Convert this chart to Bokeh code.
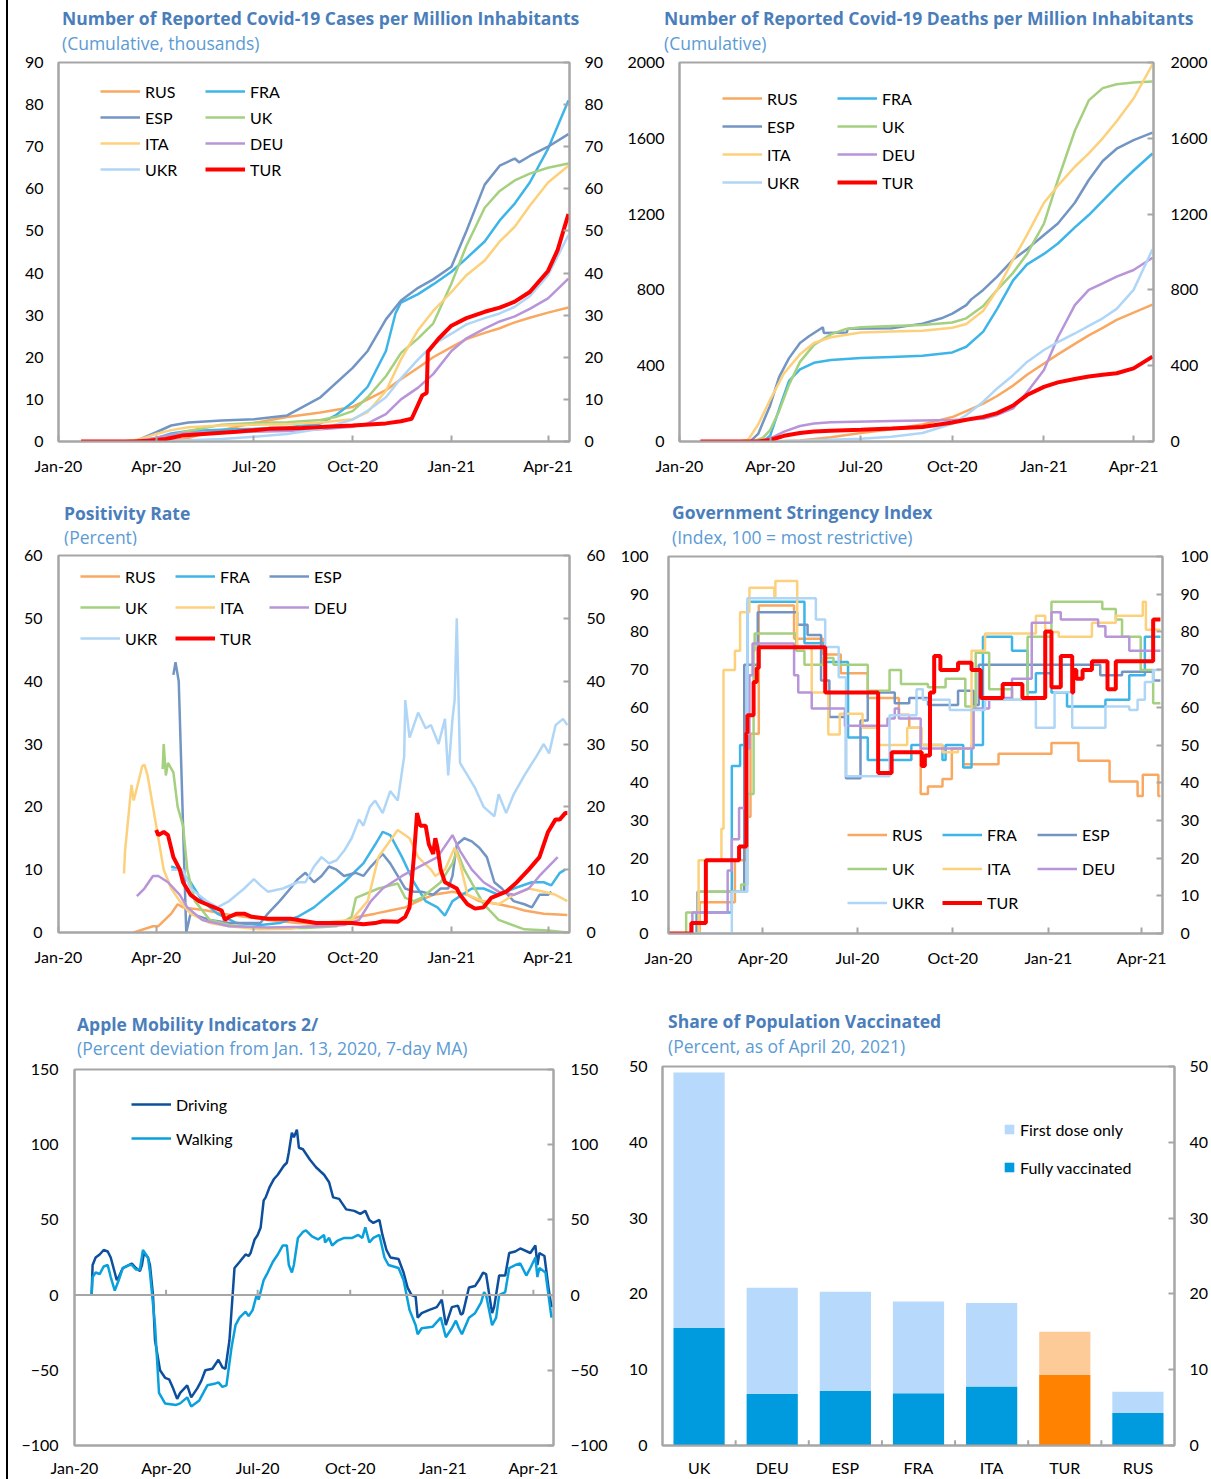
import pandas as pd
from bokeh.plotting import figure
from bokeh.models import (Range1d, LinearAxis, FixedTicker, DatetimeTickFormatter, Legend,
                          LegendItem, Span, FactorRange, Div, Spacer)
from bokeh.layouts import row, column
from bokeh.embed import file_html
from bokeh.resources import INLINE

# ---------------------------------------------------------------- data
QUARTERS = ["2020-01-01", "2020-04-01", "2020-07-01", "2020-10-01", "2021-01-01", "2021-04-01"]
X_START, X_END = "2020-01-01", "2021-04-21"

COUNTRIES = ["RUS", "FRA", "ESP", "UK", "ITA", "DEU", "UKR", "TUR"]

# Panel 1: cumulative cases per million (thousands)
CASES_RUS = [("2020-01-22", 0), ("2020-03-15", 0), ("2020-04-01", 0.1), ("2020-04-15", 0.3), ("2020-05-01", 0.8), ("2020-05-15", 1.8), ("2020-06-01", 2.7), ("2020-07-01", 4.4), ("2020-08-01", 5.8), ("2020-09-01", 6.9), ("2020-10-01", 8.2), ("2020-10-15", 10.0), ("2020-11-01", 12.2), ("2020-11-15", 14.8), ("2020-12-01", 17.5), ("2020-12-15", 20.0), ("2021-01-01", 22.4), ("2021-01-15", 24.3), ("2021-02-01", 25.8), ("2021-02-15", 26.9), ("2021-03-01", 28.3), ("2021-03-15", 29.4), ("2021-04-01", 30.6), ("2021-04-20", 31.8)]
CASES_FRA = [("2020-01-22", 0), ("2020-03-01", 0), ("2020-03-15", 0.1), ("2020-04-01", 0.8), ("2020-04-15", 1.9), ("2020-05-01", 2.5), ("2020-06-01", 2.8), ("2020-07-01", 3.0), ("2020-08-01", 3.3), ("2020-09-01", 4.3), ("2020-09-15", 6.2), ("2020-10-01", 9.3), ("2020-10-15", 13.0), ("2020-11-01", 21.5), ("2020-11-10", 30.5), ("2020-11-15", 33.0), ("2020-12-01", 35.0), ("2020-12-15", 37.3), ("2021-01-01", 40.3), ("2021-01-15", 43.5), ("2021-02-01", 47.5), ("2021-02-15", 52.5), ("2021-03-01", 56.5), ("2021-03-15", 61.5), ("2021-04-01", 69.5), ("2021-04-20", 81.0)]
CASES_ESP = [("2020-01-22", 0), ("2020-03-01", 0), ("2020-03-15", 0.3), ("2020-04-01", 2.2), ("2020-04-15", 3.8), ("2020-05-01", 4.5), ("2020-06-01", 5.0), ("2020-07-01", 5.3), ("2020-08-01", 6.2), ("2020-09-01", 10.5), ("2020-10-01", 17.5), ("2020-10-15", 21.5), ("2020-11-01", 29.0), ("2020-11-15", 33.5), ("2020-12-01", 36.5), ("2020-12-15", 38.5), ("2021-01-01", 41.5), ("2021-01-15", 50.0), ("2021-02-01", 61.0), ("2021-02-15", 65.5), ("2021-03-01", 67.2), ("2021-03-05", 66.3), ("2021-03-15", 67.8), ("2021-04-01", 70.0), ("2021-04-20", 73.0)]
CASES_UK = [("2020-01-22", 0), ("2020-03-15", 0), ("2020-04-01", 0.5), ("2020-04-15", 1.5), ("2020-05-01", 2.5), ("2020-06-01", 4.0), ("2020-07-01", 4.4), ("2020-08-01", 4.6), ("2020-09-01", 5.1), ("2020-09-15", 5.8), ("2020-10-01", 7.2), ("2020-10-15", 10.5), ("2020-11-01", 15.5), ("2020-11-15", 21.0), ("2020-12-01", 24.5), ("2020-12-15", 28.0), ("2021-01-01", 37.5), ("2021-01-15", 46.5), ("2021-02-01", 55.5), ("2021-02-15", 59.5), ("2021-03-01", 62.0), ("2021-03-15", 63.6), ("2021-04-01", 65.0), ("2021-04-20", 66.0)]
CASES_ITA = [("2020-01-22", 0), ("2020-03-01", 0), ("2020-03-15", 0.4), ("2020-04-01", 1.8), ("2020-04-15", 2.7), ("2020-05-01", 3.4), ("2020-06-01", 3.8), ("2020-07-01", 4.0), ("2020-08-01", 4.1), ("2020-09-01", 4.5), ("2020-10-01", 5.3), ("2020-10-15", 7.0), ("2020-11-01", 12.0), ("2020-11-15", 19.5), ("2020-12-01", 26.5), ("2020-12-15", 31.0), ("2021-01-01", 35.5), ("2021-01-15", 39.5), ("2021-02-01", 43.0), ("2021-02-15", 47.5), ("2021-03-01", 51.0), ("2021-03-15", 56.0), ("2021-04-01", 61.5), ("2021-04-20", 65.5)]
CASES_DEU = [("2020-01-22", 0), ("2020-03-01", 0), ("2020-03-15", 0.1), ("2020-04-01", 0.9), ("2020-04-15", 1.6), ("2020-05-01", 2.0), ("2020-06-01", 2.2), ("2020-07-01", 2.3), ("2020-08-01", 2.5), ("2020-09-01", 2.9), ("2020-10-01", 3.5), ("2020-10-15", 4.3), ("2020-11-01", 6.5), ("2020-11-15", 10.0), ("2020-12-01", 12.8), ("2020-12-15", 16.0), ("2021-01-01", 21.5), ("2021-01-15", 24.5), ("2021-02-01", 26.8), ("2021-02-15", 28.5), ("2021-03-01", 29.7), ("2021-03-15", 31.5), ("2021-04-01", 34.0), ("2021-04-20", 38.7)]
CASES_UKR = [("2020-01-22", 0), ("2020-04-01", 0), ("2020-05-01", 0.3), ("2020-06-01", 0.6), ("2020-07-01", 1.1), ("2020-08-01", 1.8), ("2020-09-01", 3.0), ("2020-10-01", 5.2), ("2020-10-15", 7.3), ("2020-11-01", 10.5), ("2020-11-15", 15.0), ("2020-12-01", 19.5), ("2020-12-15", 23.0), ("2021-01-01", 25.6), ("2021-01-15", 27.8), ("2021-02-01", 29.3), ("2021-02-15", 30.4), ("2021-03-01", 32.0), ("2021-03-15", 34.5), ("2021-04-01", 39.5), ("2021-04-20", 49.0)]
CASES_TUR = [("2020-01-22", 0), ("2020-03-10", 0), ("2020-03-25", 0.2), ("2020-04-10", 0.6), ("2020-04-25", 1.4), ("2020-05-15", 1.8), ("2020-06-15", 2.3), ("2020-07-15", 3.0), ("2020-08-15", 3.2), ("2020-09-15", 3.6), ("2020-10-01", 3.8), ("2020-11-01", 4.3), ("2020-11-15", 4.8), ("2020-11-25", 5.4), ("2020-12-05", 11.0), ("2020-12-09", 11.5), ("2020-12-10", 21.3), ("2020-12-20", 24.4), ("2021-01-01", 27.5), ("2021-01-15", 29.3), ("2021-02-01", 30.8), ("2021-02-15", 31.8), ("2021-03-01", 33.2), ("2021-03-15", 35.5), ("2021-04-01", 40.5), ("2021-04-10", 45.5), ("2021-04-20", 54.0)]

# Panel 2: cumulative deaths per million
DEATHS_RUS = [("2020-01-22", 0), ("2020-04-01", 0), ("2020-05-01", 5), ("2020-06-01", 23), ("2020-07-01", 45), ("2020-08-01", 65), ("2020-09-01", 90), ("2020-10-01", 129), ("2020-10-15", 160), ("2020-11-01", 200), ("2020-11-15", 240), ("2020-12-01", 295), ("2020-12-15", 352), ("2021-01-01", 412), ("2021-01-15", 460), ("2021-02-01", 515), ("2021-02-15", 560), ("2021-03-01", 600), ("2021-03-15", 642), ("2021-04-01", 680), ("2021-04-20", 722)]
DEATHS_FRA = [("2020-01-22", 0), ("2020-03-25", 0), ("2020-04-01", 30), ("2020-04-10", 170), ("2020-04-20", 320), ("2020-05-01", 380), ("2020-05-15", 415), ("2020-06-01", 430), ("2020-07-01", 440), ("2020-08-01", 446), ("2020-09-01", 452), ("2020-10-01", 470), ("2020-10-15", 500), ("2020-11-01", 580), ("2020-11-15", 700), ("2020-12-01", 850), ("2020-12-15", 935), ("2021-01-01", 990), ("2021-01-15", 1045), ("2021-02-01", 1130), ("2021-02-15", 1195), ("2021-03-01", 1270), ("2021-03-15", 1345), ("2021-04-01", 1430), ("2021-04-20", 1520)]
DEATHS_ESP = [("2020-01-22", 0), ("2020-03-12", 0), ("2020-03-20", 40), ("2020-04-01", 190), ("2020-04-10", 340), ("2020-04-20", 440), ("2020-05-01", 520), ("2020-05-10", 555), ("2020-05-24", 603), ("2020-05-25", 572), ("2020-06-17", 575), ("2020-06-18", 595), ("2020-08-01", 598), ("2020-09-01", 622), ("2020-09-20", 650), ("2020-10-01", 675), ("2020-10-15", 720), ("2020-10-20", 750), ("2020-11-01", 800), ("2020-11-15", 870), ("2020-12-01", 960), ("2020-12-15", 1015), ("2021-01-01", 1090), ("2021-01-15", 1150), ("2021-02-01", 1260), ("2021-02-15", 1380), ("2021-03-01", 1480), ("2021-03-15", 1545), ("2021-04-01", 1590), ("2021-04-20", 1630)]
DEATHS_UK = [("2020-01-22", 0), ("2020-03-15", 0), ("2020-03-25", 20), ("2020-04-01", 60), ("2020-04-10", 160), ("2020-04-20", 300), ("2020-05-01", 420), ("2020-05-15", 510), ("2020-06-01", 565), ("2020-06-15", 592), ("2020-07-01", 603), ("2020-08-01", 610), ("2020-09-01", 615), ("2020-10-01", 628), ("2020-10-15", 650), ("2020-11-01", 715), ("2020-11-15", 800), ("2020-12-01", 890), ("2020-12-15", 990), ("2021-01-01", 1150), ("2021-01-15", 1380), ("2021-02-01", 1640), ("2021-02-15", 1800), ("2021-03-01", 1865), ("2021-03-15", 1885), ("2021-04-01", 1895), ("2021-04-20", 1900)]
DEATHS_ITA = [("2020-01-22", 0), ("2020-03-01", 0), ("2020-03-10", 10), ("2020-03-20", 90), ("2020-04-01", 220), ("2020-04-15", 360), ("2020-05-01", 460), ("2020-05-15", 520), ("2020-06-01", 550), ("2020-07-01", 575), ("2020-08-01", 580), ("2020-09-01", 585), ("2020-10-01", 600), ("2020-10-15", 620), ("2020-11-01", 690), ("2020-11-15", 800), ("2020-12-01", 960), ("2020-12-15", 1090), ("2021-01-01", 1260), ("2021-01-15", 1350), ("2021-02-01", 1450), ("2021-02-15", 1520), ("2021-03-01", 1600), ("2021-03-15", 1690), ("2021-04-01", 1810), ("2021-04-20", 1990)]
DEATHS_DEU = [("2020-01-22", 0), ("2020-03-20", 0), ("2020-04-01", 15), ("2020-04-15", 52), ("2020-05-01", 82), ("2020-05-15", 95), ("2020-06-01", 102), ("2020-08-01", 108), ("2020-10-01", 113), ("2020-11-01", 120), ("2020-11-15", 140), ("2020-12-01", 175), ("2020-12-15", 260), ("2021-01-01", 377), ("2021-01-15", 550), ("2021-02-01", 720), ("2021-02-15", 800), ("2021-03-01", 835), ("2021-03-15", 870), ("2021-04-01", 905), ("2021-04-20", 970)]
DEATHS_UKR = [("2020-01-22", 0), ("2020-04-01", 0), ("2020-05-01", 4), ("2020-06-01", 9), ("2020-07-01", 14), ("2020-08-01", 25), ("2020-09-01", 45), ("2020-10-01", 94), ("2020-10-15", 140), ("2020-11-01", 210), ("2020-11-15", 280), ("2020-12-01", 350), ("2020-12-15", 420), ("2021-01-01", 483), ("2021-01-15", 525), ("2021-02-01", 570), ("2021-02-15", 610), ("2021-03-01", 650), ("2021-03-15", 700), ("2021-04-01", 800), ("2021-04-20", 1014)]
DEATHS_TUR = [("2020-01-22", 0), ("2020-03-20", 0), ("2020-04-01", 8), ("2020-04-15", 30), ("2020-05-01", 45), ("2020-05-15", 53), ("2020-06-01", 57), ("2020-07-01", 62), ("2020-08-01", 68), ("2020-09-01", 76), ("2020-10-01", 100), ("2020-10-15", 115), ("2020-11-01", 130), ("2020-11-15", 150), ("2020-12-01", 190), ("2020-12-15", 245), ("2021-01-01", 288), ("2021-01-15", 312), ("2021-02-01", 330), ("2021-02-15", 343), ("2021-03-01", 352), ("2021-03-15", 360), ("2021-04-01", 386), ("2021-04-20", 448)]

# Panel 3: positivity rate (percent)
POS_RUS = [("2020-03-11", 0), ("2020-03-29", 1.0), ("2020-04-03", 1.0), ("2020-04-15", 3.0), ("2020-04-21", 4.5), ("2020-04-26", 4.0), ("2020-05-18", 3.5), ("2020-06-01", 3.0), ("2020-06-22", 2.5), ("2020-07-14", 2.0), ("2020-08-11", 1.5), ("2020-09-02", 1.5), ("2020-09-23", 1.8), ("2020-10-07", 2.5), ("2020-10-22", 3.0), ("2020-11-05", 3.5), ("2020-11-19", 4.0), ("2020-12-01", 5.0), ("2020-12-15", 6.0), ("2021-01-02", 6.5), ("2021-01-16", 6.0), ("2021-01-27", 5.0), ("2021-02-14", 4.5), ("2021-02-28", 4.0), ("2021-03-10", 3.5), ("2021-03-28", 3.0), ("2021-04-19", 2.8)]
POS_FRA = [("2020-04-15", 10.5), ("2020-04-23", 10.0), ("2020-05-03", 8.0), ("2020-05-14", 5.0), ("2020-05-28", 3.0), ("2020-06-15", 1.5), ("2020-07-07", 1.2), ("2020-07-25", 1.5), ("2020-08-11", 2.5), ("2020-08-26", 4.0), ("2020-09-09", 6.0), ("2020-09-23", 8.0), ("2020-10-11", 11.0), ("2020-10-22", 14.0), ("2020-10-29", 16.0), ("2020-11-05", 15.5), ("2020-11-16", 12.0), ("2020-11-27", 8.0), ("2020-12-08", 5.0), ("2020-12-19", 4.0), ("2020-12-26", 2.7), ("2021-01-02", 5.0), ("2021-01-20", 7.0), ("2021-01-31", 7.0), ("2021-02-14", 6.0), ("2021-02-28", 7.0), ("2021-03-17", 8.0), ("2021-03-28", 8.0), ("2021-04-04", 7.5), ("2021-04-12", 9.5), ("2021-04-17", 10.0)]
POS_ESP = [("2020-04-17", 41.0), ("2020-04-19", 43.0), ("2020-04-22", 40.0), ("2020-04-29", 0.0), ("2020-05-03", 3.0), ("2020-05-21", 2.0), ("2020-06-08", 1.5), ("2020-07-07", 1.5), ("2020-07-14", 3.0), ("2020-07-25", 5.0), ("2020-08-04", 7.0), ("2020-08-11", 8.5), ("2020-08-18", 9.5), ("2020-08-26", 8.0), ("2020-09-02", 9.0), ("2020-09-09", 10.5), ("2020-09-16", 10.0), ("2020-09-23", 9.0), ("2020-10-04", 9.5), ("2020-10-11", 9.0), ("2020-10-18", 10.5), ("2020-10-29", 12.5), ("2020-11-05", 11.0), ("2020-11-12", 9.0), ("2020-11-19", 7.0), ("2020-11-27", 6.5), ("2020-12-04", 6.5), ("2020-12-15", 6.0), ("2020-12-22", 7.0), ("2020-12-29", 7.0), ("2021-01-02", 9.0), ("2021-01-06", 14.0), ("2021-01-13", 15.0), ("2021-01-20", 14.5), ("2021-01-27", 13.5), ("2021-02-03", 12.0), ("2021-02-10", 8.0), ("2021-02-17", 7.0), ("2021-02-28", 5.0), ("2021-03-10", 4.5), ("2021-03-17", 4.0), ("2021-03-24", 6.0), ("2021-04-01", 6.0), ("2021-04-04", 6.5)]
POS_UK = [("2020-04-07", 26.0), ("2020-04-08", 30.0), ("2020-04-10", 25.0), ("2020-04-12", 27.0), ("2020-04-17", 25.5), ("2020-04-21", 20.0), ("2020-04-26", 17.0), ("2020-04-30", 10.0), ("2020-05-07", 5.0), ("2020-05-21", 2.0), ("2020-06-08", 1.2), ("2020-07-07", 0.7), ("2020-08-18", 0.7), ("2020-09-16", 1.0), ("2020-09-30", 2.5), ("2020-10-04", 5.5), ("2020-10-25", 7.0), ("2020-11-12", 7.8), ("2020-11-19", 5.5), ("2020-11-27", 5.0), ("2020-12-04", 5.5), ("2020-12-22", 8.0), ("2021-01-02", 11.0), ("2021-01-06", 13.0), ("2021-01-13", 10.0), ("2021-01-31", 4.5), ("2021-02-14", 2.0), ("2021-03-10", 0.5), ("2021-04-01", 0.3), ("2021-04-19", 0.0)]
POS_ITA = [("2020-03-02", 9.4), ("2020-03-03", 13.0), ("2020-03-07", 20.0), ("2020-03-09", 23.5), ("2020-03-11", 21.0), ("2020-03-14", 23.0), ("2020-03-19", 26.5), ("2020-03-21", 26.7), ("2020-03-24", 25.0), ("2020-03-29", 20.0), ("2020-04-03", 15.0), ("2020-04-08", 10.0), ("2020-04-15", 7.0), ("2020-04-23", 5.0), ("2020-05-03", 3.0), ("2020-05-21", 1.5), ("2020-06-08", 1.0), ("2020-07-07", 0.5), ("2020-08-04", 0.6), ("2020-09-02", 1.5), ("2020-09-30", 2.0), ("2020-10-15", 5.0), ("2020-10-25", 12.0), ("2020-11-12", 16.3), ("2020-11-23", 15.0), ("2020-12-01", 12.0), ("2020-12-13", 10.0), ("2020-12-17", 9.0), ("2020-12-26", 10.0), ("2021-01-04", 13.5), ("2021-01-09", 11.0), ("2021-01-16", 6.0), ("2021-01-31", 5.0), ("2021-02-14", 4.5), ("2021-02-28", 6.0), ("2021-03-14", 7.0), ("2021-03-28", 6.5), ("2021-04-08", 6.0), ("2021-04-19", 5.0)]
POS_DEU = [("2020-03-14", 5.8), ("2020-03-21", 7.0), ("2020-03-29", 9.0), ("2020-04-03", 9.0), ("2020-04-12", 8.0), ("2020-04-23", 6.0), ("2020-04-30", 4.0), ("2020-05-14", 2.0), ("2020-06-08", 1.0), ("2020-07-14", 0.8), ("2020-08-18", 0.9), ("2020-09-23", 1.2), ("2020-10-07", 2.0), ("2020-10-18", 5.0), ("2020-10-29", 7.0), ("2020-11-16", 9.0), ("2020-12-08", 11.0), ("2020-12-19", 12.0), ("2021-01-02", 15.5), ("2021-01-09", 13.0), ("2021-01-20", 10.0), ("2021-01-31", 8.0), ("2021-02-14", 6.5), ("2021-02-28", 6.0), ("2021-03-14", 7.0), ("2021-03-24", 9.0), ("2021-04-10", 12.0)]
POS_UKR = [("2020-04-15", 10.0), ("2020-04-26", 10.0), ("2020-05-03", 7.0), ("2020-05-18", 5.0), ("2020-05-28", 4.0), ("2020-06-08", 5.0), ("2020-06-15", 6.0), ("2020-06-22", 7.0), ("2020-07-01", 8.5), ("2020-07-07", 7.5), ("2020-07-14", 6.5), ("2020-07-28", 7.0), ("2020-08-11", 8.0), ("2020-08-18", 8.0), ("2020-08-26", 10.5), ("2020-09-02", 12.0), ("2020-09-09", 11.0), ("2020-09-16", 11.5), ("2020-09-23", 13.0), ("2020-09-30", 15.0), ("2020-10-07", 18.0), ("2020-10-11", 17.0), ("2020-10-17", 20.0), ("2020-10-22", 21.0), ("2020-10-29", 19.0), ("2020-11-05", 22.5), ("2020-11-12", 21.0), ("2020-11-18", 28.0), ("2020-11-19", 37.0), ("2020-11-23", 31.0), ("2020-12-01", 35.0), ("2020-12-08", 32.5), ("2020-12-13", 33.0), ("2020-12-20", 30.0), ("2020-12-26", 34.0), ("2020-12-29", 25.0), ("2021-01-02", 34.0), ("2021-01-04", 37.0), ("2021-01-06", 50.0), ("2021-01-09", 27.0), ("2021-01-16", 25.0), ("2021-01-23", 23.0), ("2021-01-31", 20.0), ("2021-02-10", 18.5), ("2021-02-14", 22.0), ("2021-02-21", 19.0), ("2021-02-28", 22.0), ("2021-03-10", 25.0), ("2021-03-21", 28.0), ("2021-03-28", 30.0), ("2021-04-02", 28.5), ("2021-04-08", 33.0), ("2021-04-15", 34.0), ("2021-04-19", 33.0)]
POS_TUR = [("2020-04-01", 16.3), ("2020-04-03", 15.5), ("2020-04-08", 16.0), ("2020-04-12", 15.5), ("2020-04-17", 12.0), ("2020-04-23", 10.0), ("2020-04-26", 8.0), ("2020-05-03", 6.0), ("2020-05-11", 5.0), ("2020-05-18", 4.5), ("2020-05-25", 4.0), ("2020-06-01", 3.5), ("2020-06-04", 2.0), ("2020-06-08", 2.5), ("2020-06-15", 3.0), ("2020-06-22", 3.0), ("2020-06-29", 2.5), ("2020-07-14", 2.2), ("2020-07-28", 2.2), ("2020-08-04", 2.2), ("2020-08-18", 1.8), ("2020-08-28", 1.5), ("2020-09-16", 1.5), ("2020-09-30", 1.5), ("2020-10-11", 1.3), ("2020-10-22", 1.5), ("2020-10-29", 1.8), ("2020-11-12", 1.7), ("2020-11-19", 2.5), ("2020-11-23", 4.0), ("2020-11-27", 12.0), ("2020-11-30", 19.0), ("2020-12-03", 17.0), ("2020-12-08", 17.0), ("2020-12-11", 14.0), ("2020-12-15", 12.5), ("2020-12-17", 15.0), ("2020-12-19", 13.5), ("2020-12-22", 10.0), ("2020-12-26", 8.0), ("2021-01-06", 7.0), ("2021-01-09", 6.0), ("2021-01-16", 4.5), ("2021-01-23", 3.8), ("2021-01-31", 4.0), ("2021-02-07", 5.5), ("2021-02-21", 6.5), ("2021-03-03", 8.0), ("2021-03-14", 10.0), ("2021-03-24", 12.0), ("2021-04-01", 16.0), ("2021-04-08", 18.0), ("2021-04-12", 18.0), ("2021-04-17", 19.0), ("2021-04-19", 19.0)]

# Panel 4: stringency index (step series, value holds from its date)
STR_RUS = [("2020-01-01", 0), ("2020-01-31", 8.3), ("2020-03-05", 19.4), ("2020-03-16", 31.0), ("2020-03-20", 53.0), ("2020-03-28", 87.0), ("2020-05-01", 78.2), ("2020-05-29", 74.0), ("2020-06-15", 69.0), ("2020-07-11", 62.5), ("2020-08-10", 58.0), ("2020-08-20", 54.6), ("2020-08-31", 37.0), ("2020-09-07", 39.0), ("2020-09-21", 41.0), ("2020-09-30", 49.0), ("2020-10-11", 44.9), ("2020-11-14", 47.7), ("2021-01-04", 50.5), ("2021-01-30", 45.8), ("2021-03-01", 40.3), ("2021-03-28", 36.5), ("2021-04-02", 42.1), ("2021-04-17", 36.5), ("2021-04-19", 36.5)]
STR_FRA = [("2020-01-01", 0), ("2020-01-28", 5.6), ("2020-03-02", 44.4), ("2020-03-10", 50.0), ("2020-03-17", 88.0), ("2020-05-11", 77.0), ("2020-05-30", 72.0), ("2020-06-22", 52.0), ("2020-07-11", 46.0), ("2020-08-22", 50.0), ("2020-09-21", 46.0), ("2020-09-24", 50.0), ("2020-10-11", 44.0), ("2020-10-19", 50.0), ("2020-10-30", 78.7), ("2020-11-27", 75.0), ("2020-12-12", 64.0), ("2020-12-20", 69.0), ("2021-01-04", 63.9), ("2021-01-19", 60.2), ("2021-02-25", 62.0), ("2021-03-20", 68.5), ("2021-04-04", 78.7), ("2021-04-19", 78.7)]
STR_ESP = [("2020-01-01", 0), ("2020-01-29", 11.1), ("2020-03-14", 71.3), ("2020-03-27", 85.2), ("2020-05-04", 81.9), ("2020-05-14", 79.2), ("2020-05-27", 67.1), ("2020-06-04", 57.4), ("2020-06-20", 41.2), ("2020-07-04", 56.5), ("2020-07-11", 63.9), ("2020-08-06", 61.1), ("2020-08-20", 62.5), ("2020-09-07", 60.6), ("2020-10-06", 64.4), ("2020-10-21", 60.6), ("2020-10-26", 71.3), ("2021-02-20", 68.5), ("2021-03-13", 69.4), ("2021-04-12", 67.1), ("2021-04-19", 67.1)]
STR_UK = [("2020-01-01", 0), ("2020-01-18", 5.6), ("2020-01-30", 11.1), ("2020-03-11", 13.0), ("2020-03-17", 37.0), ("2020-03-23", 75.0), ("2020-03-24", 79.6), ("2020-05-03", 75.0), ("2020-05-11", 71.3), ("2020-05-29", 73.1), ("2020-06-08", 71.3), ("2020-07-11", 64.4), ("2020-08-01", 69.9), ("2020-08-12", 66.2), ("2020-09-07", 65.3), ("2020-09-24", 67.6), ("2020-10-13", 60.2), ("2020-10-23", 74.5), ("2020-11-05", 64.8), ("2020-11-27", 62.0), ("2020-12-12", 78.7), ("2021-01-04", 88.0), ("2021-02-22", 86.1), ("2021-03-07", 83.3), ("2021-03-13", 78.7), ("2021-03-31", 69.9), ("2021-04-12", 61.1), ("2021-04-19", 61.1)]
STR_ITA = [("2020-01-01", 0), ("2020-01-30", 19.4), ("2020-02-21", 27.8), ("2020-02-23", 69.9), ("2020-03-05", 75.0), ("2020-03-10", 85.2), ("2020-03-19", 91.7), ("2020-04-12", 89.0), ("2020-04-13", 93.5), ("2020-05-04", 76.0), ("2020-05-18", 63.9), ("2020-06-03", 52.8), ("2020-06-14", 58.3), ("2020-07-06", 54.6), ("2020-07-21", 50.0), ("2020-08-18", 54.6), ("2020-09-01", 50.0), ("2020-09-21", 48.1), ("2020-10-06", 49.1), ("2020-10-19", 75.0), ("2020-11-01", 79.6), ("2020-12-20", 84.3), ("2020-12-29", 80.0), ("2021-01-11", 78.7), ("2021-02-12", 82.4), ("2021-03-07", 84.3), ("2021-04-02", 88.0), ("2021-04-05", 80.6), ("2021-04-19", 80.6)]
STR_DEU = [("2020-01-01", 0), ("2020-01-24", 5.6), ("2020-02-27", 16.7), ("2020-03-02", 25.0), ("2020-03-09", 33.3), ("2020-03-15", 49.1), ("2020-03-19", 68.5), ("2020-03-22", 76.9), ("2020-05-01", 68.5), ("2020-05-05", 63.9), ("2020-05-18", 59.7), ("2020-06-19", 55.1), ("2020-07-30", 57.0), ("2020-08-06", 59.7), ("2020-08-10", 57.0), ("2020-08-31", 49.1), ("2020-10-21", 59.7), ("2020-11-05", 62.5), ("2020-11-27", 67.6), ("2020-12-16", 82.4), ("2021-01-04", 85.2), ("2021-01-13", 83.3), ("2021-02-18", 81.5), ("2021-02-25", 78.7), ("2021-03-20", 75.0), ("2021-04-19", 75.0)]
STR_UKR = [("2020-01-01", 0), ("2020-03-02", 11.1), ("2020-03-17", 88.9), ("2020-05-22", 83.3), ("2020-05-31", 76.0), ("2020-06-13", 68.0), ("2020-06-20", 41.7), ("2020-08-01", 57.9), ("2020-08-27", 64.8), ("2020-09-02", 62.0), ("2020-09-28", 59.3), ("2020-11-01", 62.0), ("2020-12-20", 54.6), ("2021-01-07", 64.0), ("2021-01-24", 54.6), ("2021-02-25", 60.2), ("2021-03-20", 59.3), ("2021-03-28", 62.0), ("2021-04-04", 66.7), ("2021-04-12", 69.9), ("2021-04-19", 69.9)]
STR_TUR = [("2020-01-01", 0), ("2020-01-23", 2.8), ("2020-02-06", 19.4), ("2020-03-09", 23.1), ("2020-03-16", 53.2), ("2020-03-17", 57.9), ("2020-03-23", 66.7), ("2020-03-26", 70.4), ("2020-03-28", 75.9), ("2020-05-31", 63.9), ("2020-07-21", 42.6), ("2020-08-03", 48.1), ("2020-09-01", 44.4), ("2020-09-04", 47.2), ("2020-09-09", 63.9), ("2020-09-13", 73.6), ("2020-09-19", 69.9), ("2020-10-06", 71.8), ("2020-10-19", 69.9), ("2020-10-28", 62.5), ("2020-11-18", 66.2), ("2020-12-07", 62.5), ("2020-12-29", 80.1), ("2021-01-04", 65.3), ("2021-01-13", 73.6), ("2021-01-24", 63.9), ("2021-01-25", 69.9), ("2021-01-28", 67.6), ("2021-02-03", 69.9), ("2021-02-12", 72.2), ("2021-02-27", 64.8), ("2021-03-07", 72.2), ("2021-04-12", 83.3), ("2021-04-19", 83.3)]

# Panel 5: Apple mobility (percent deviation)
DRIVING = [("2020-01-18", 0), ("2020-01-19", 20), ("2020-01-22", 25), ("2020-01-26", 27), ("2020-01-30", 30), ("2020-02-03", 29), ("2020-02-06", 25), ("2020-02-10", 15), ("2020-02-12", 10), ("2020-02-14", 12), ("2020-02-18", 18), ("2020-02-24", 20), ("2020-02-27", 21), ("2020-03-02", 18), ("2020-03-06", 16), ("2020-03-08", 20), ("2020-03-10", 28), ("2020-03-14", 25), ("2020-03-16", 20), ("2020-03-19", 0), ("2020-03-21", -30), ("2020-03-26", -50), ("2020-03-31", -55), ("2020-04-04", -56), ("2020-04-08", -62), ("2020-04-12", -69), ("2020-04-15", -65), ("2020-04-22", -60), ("2020-04-26", -68), ("2020-05-02", -62), ("2020-05-06", -57), ("2020-05-10", -50), ("2020-05-17", -49), ("2020-05-23", -43), ("2020-05-27", -48), ("2020-05-30", -49), ("2020-06-03", -30), ("2020-06-08", 18), ("2020-06-13", 22), ("2020-06-19", 27), ("2020-06-22", 26), ("2020-06-24", 28), ("2020-06-28", 37), ("2020-07-01", 40), ("2020-07-04", 45), ("2020-07-07", 63), ("2020-07-09", 65), ("2020-07-13", 72), ("2020-07-17", 77), ("2020-07-21", 80), ("2020-07-27", 86), ("2020-07-30", 88), ("2020-08-01", 95), ("2020-08-04", 108), ("2020-08-06", 105), ("2020-08-09", 110), ("2020-08-11", 98), ("2020-08-15", 97), ("2020-08-22", 90), ("2020-08-28", 85), ("2020-09-05", 80), ("2020-09-10", 75), ("2020-09-14", 65), ("2020-09-20", 64), ("2020-09-24", 60), ("2020-09-27", 57), ("2020-10-05", 56), ("2020-10-11", 54), ("2020-10-16", 56), ("2020-10-20", 50), ("2020-10-24", 48), ("2020-10-30", 50), ("2020-11-02", 40), ("2020-11-06", 30), ("2020-11-10", 25), ("2020-11-18", 24), ("2020-11-23", 15), ("2020-11-27", 5), ("2020-12-01", 0), ("2020-12-05", -1), ("2020-12-07", -15), ("2020-12-11", -12), ("2020-12-18", -10), ("2020-12-26", -8), ("2020-12-31", -3), ("2021-01-04", -20), ("2021-01-10", -8), ("2021-01-16", -7), ("2021-01-19", -13), ("2021-01-21", -12), ("2021-01-27", 5), ("2021-02-02", 6), ("2021-02-06", 10), ("2021-02-10", 15), ("2021-02-13", 14), ("2021-02-19", -12), ("2021-02-21", -8), ("2021-02-26", 13), ("2021-03-04", 13), ("2021-03-08", 28), ("2021-03-14", 29), ("2021-03-19", 31), ("2021-03-29", 28), ("2021-04-01", 31), ("2021-04-03", 33), ("2021-04-05", 20), ("2021-04-07", 28), ("2021-04-12", 26), ("2021-04-16", 5), ("2021-04-19", -8)]
WALKING = [("2020-01-18", 0), ("2020-01-19", 12), ("2020-01-22", 15), ("2020-01-26", 14), ("2020-01-30", 19), ("2020-02-03", 20), ("2020-02-06", 12), ("2020-02-10", 3), ("2020-02-14", 10), ("2020-02-18", 18), ("2020-02-24", 20), ("2020-02-27", 20), ("2020-03-02", 17), ("2020-03-06", 17), ("2020-03-09", 30), ("2020-03-14", 25), ("2020-03-16", 15), ("2020-03-21", -20), ("2020-03-25", -65), ("2020-03-31", -72), ("2020-04-11", -73), ("2020-04-15", -72), ("2020-04-22", -68), ("2020-04-26", -74), ("2020-05-04", -70), ("2020-05-08", -65), ("2020-05-12", -60), ("2020-05-19", -59), ("2020-05-23", -58), ("2020-05-27", -61), ("2020-05-31", -60), ("2020-06-05", -35), ("2020-06-09", -20), ("2020-06-13", -15), ("2020-06-19", -11), ("2020-06-22", -14), ("2020-06-26", -10), ("2020-06-30", 0), ("2020-07-02", -3), ("2020-07-07", 10), ("2020-07-11", 15), ("2020-07-16", 22), ("2020-07-21", 27), ("2020-07-26", 33), ("2020-07-30", 33), ("2020-08-01", 20), ("2020-08-04", 15), ("2020-08-06", 20), ("2020-08-10", 38), ("2020-08-15", 42), ("2020-08-18", 43), ("2020-08-24", 39), ("2020-08-30", 37), ("2020-09-05", 40), ("2020-09-06", 35), ("2020-09-10", 38), ("2020-09-13", 33), ("2020-09-18", 36), ("2020-09-25", 38), ("2020-10-03", 38), ("2020-10-09", 40), ("2020-10-13", 38), ("2020-10-16", 45), ("2020-10-20", 35), ("2020-10-24", 38), ("2020-10-30", 40), ("2020-11-04", 25), ("2020-11-08", 20), ("2020-11-18", 18), ("2020-11-23", 10), ("2020-11-29", -10), ("2020-12-05", -20), ("2020-12-07", -26), ("2020-12-11", -22), ("2020-12-22", -21), ("2020-12-30", -15), ("2021-01-04", -28), ("2021-01-10", -22), ("2021-01-14", -17), ("2021-01-17", -22), ("2021-01-20", -26), ("2021-01-27", -15), ("2021-02-02", -12), ("2021-02-08", -5), ("2021-02-11", 2), ("2021-02-13", 0), ("2021-02-19", -20), ("2021-02-23", -15), ("2021-02-26", 0), ("2021-03-04", 2), ("2021-03-08", 18), ("2021-03-14", 20), ("2021-03-19", 21), ("2021-03-25", 13), ("2021-03-29", 18), ("2021-04-03", 25), ("2021-04-05", 12), ("2021-04-07", 18), ("2021-04-13", 15), ("2021-04-16", 0), ("2021-04-19", -15)]

# Panel 6: vaccination
VAC_COUNTRIES = ["UK", "DEU", "ESP", "FRA", "ITA", "TUR", "RUS"]
VAC_TOTAL = [49.2, 20.8, 20.3, 19.0, 18.8, 15.0, 7.1]   # at least one dose
VAC_FULL = [15.5, 6.8, 7.2, 6.9, 7.8, 9.3, 4.3]

# ---------------------------------------------------------------- style
FONT = "Lato"
TITLE_FONT = "Open Sans"
TSIZE = "16px"
TITLE_COLOR = "#4A7EBB"
SUB_COLOR = "#5B9BD5"
FRAME_GRAY = "#A6A6A6"
COL = {"RUS": "#F9A862", "FRA": "#3EB5E8", "ESP": "#7395C4", "UK": "#A5D07F",
       "ITA": "#FDD17C", "DEU": "#B795D8", "UKR": "#B0D6F7", "TUR": "#FF0000"}


def ms(d):
    return pd.Timestamp(d).value / 1e6


def xs(series):
    return [ms(d) for d, _ in series]


def ys(series):
    return [v for _, v in series]


def style_axes(p, yticks, tick_bottom=True, x_standoff=14, ly=15, ry=15):
    right = LinearAxis(ticker=FixedTicker(ticks=yticks))
    p.add_layout(right, "right")
    for ax in p.yaxis:
        ax.ticker = FixedTicker(ticks=yticks)
    for ax in list(p.xaxis) + list(p.yaxis):
        ax.axis_line_color = FRAME_GRAY
        ax.axis_line_width = 2
        ax.major_tick_line_color = FRAME_GRAY
        ax.major_tick_line_width = 2
        ax.minor_tick_line_color = None
        ax.major_label_text_font = FONT
        ax.major_label_text_font_size = TSIZE
        ax.major_label_text_color = "#000000"
        ax.major_tick_out = 0
        ax.major_tick_in = 0
    p.yaxis[0].major_label_standoff = ly
    right.major_label_standoff = ry
    right.major_tick_in = 6
    for ax in p.xaxis:
        ax.major_label_standoff = x_standoff
        if tick_bottom:
            ax.major_tick_in = 6
        else:
            ax.major_tick_line_color = None
    p.xgrid.visible = False
    p.ygrid.visible = False
    p.outline_line_color = FRAME_GRAY
    p.outline_line_width = 2
    p.background_fill_color = "white"
    p.border_fill_color = "white"


def date_axis(p):
    p.xaxis.ticker = FixedTicker(ticks=[ms(q) for q in QUARTERS])
    fmt = "%b-%y"
    p.xaxis.formatter = DatetimeTickFormatter(
        milliseconds=fmt, seconds=fmt, minsec=fmt, minutes=fmt, hourmin=fmt, hours=fmt,
        days=fmt, months=fmt, years=fmt)


def title_div(w, h, title, subtitle, left, pad_top, gap):
    html = (f'<div style="padding-left:{left}px;padding-top:{pad_top}px;'
            f'font-family:\'{TITLE_FONT}\';line-height:20px;white-space:nowrap;">'
            f'<div style="font-weight:bold;font-size:17.5px;color:{TITLE_COLOR};">{title}</div>'
            f'<div style="margin-top:{gap}px;font-size:17.5px;color:{SUB_COLOR};">{subtitle}</div>'
            f'</div>')
    return Div(text=html, width=w, height=h, margin=0)


def legends(p, columns, xs_, y0, spacing, glyph_w=40, glyph_h=20, label_h=20):
    for col, lx in zip(columns, xs_):
        items = [LegendItem(label=name, renderers=[r]) for name, r in col]
        lg = Legend(items=items, location=(lx, y0), orientation="vertical", padding=0,
                    margin=0, spacing=spacing, label_height=label_h, glyph_height=glyph_h,
                    glyph_width=glyph_w, label_standoff=5, label_text_font=FONT,
                    label_text_font_size=TSIZE, label_text_color="#000000",
                    border_line_color=None, background_fill_alpha=0)
        p.add_layout(lg, "center")


def ts_fig(w, h, bl, br, bt, bb, y0, y1):
    p = figure(width=w, height=h, x_axis_type="datetime", output_backend="svg",
               toolbar_location=None, tools="", frame_align=False,
               x_range=Range1d(ms(X_START), ms(X_END)), y_range=Range1d(y0, y1),
               min_border_left=bl, min_border_right=br, min_border_top=bt, min_border_bottom=bb)
    return p


def draw_lines(p, data, step=False, width=2.5):
    rends = {}
    for c in COUNTRIES:
        s = data[c]
        lw = 4 if c == "TUR" else width
        if step:
            r = p.step(xs(s), ys(s), mode="after", line_color=COL[c], line_width=lw)
        else:
            r = p.line(xs(s), ys(s), line_color=COL[c], line_width=lw)
        rends[c] = r
    return rends


# ---------------------------------------------------------------- panel 1
d1 = title_div(602, 52, "Number of Reported Covid-19 Cases per Million Inhabitants",
               "(Cumulative, thousands)", 54, 8, 5)
p1 = ts_fig(602, 446, 50, 41, 10, 57, 0, 90)
style_axes(p1, list(range(0, 91, 10)))
date_axis(p1)
r1 = draw_lines(p1, {"RUS": CASES_RUS, "FRA": CASES_FRA, "ESP": CASES_ESP, "UK": CASES_UK,
                     "ITA": CASES_ITA, "DEU": CASES_DEU, "UKR": CASES_UKR, "TUR": CASES_TUR})
legends(p1, [[(c, r1[c]) for c in ["RUS", "ESP", "ITA", "UKR"]],
             [(c, r1[c]) for c in ["FRA", "UK", "DEU", "TUR"]]], [42, 147], 262, 6)

# ---------------------------------------------------------------- panel 2
d2 = title_div(601, 52, "Number of Reported Covid-19 Deaths per Million Inhabitants",
               "(Cumulative)", 54, 8, 5)
p2 = ts_fig(601, 446, 69, 58, 10, 57, 0, 2000)
style_axes(p2, list(range(0, 2001, 400)), ly=15, ry=17)
date_axis(p2)
r2 = draw_lines(p2, {"RUS": DEATHS_RUS, "FRA": DEATHS_FRA, "ESP": DEATHS_ESP, "UK": DEATHS_UK,
                     "ITA": DEATHS_ITA, "DEU": DEATHS_DEU, "UKR": DEATHS_UKR, "TUR": DEATHS_TUR})
legends(p2, [[(c, r2[c]) for c in ["RUS", "ESP", "ITA", "UKR"]],
             [(c, r2[c]) for c in ["FRA", "UK", "DEU", "TUR"]]], [43, 158], 249, 8)

# ---------------------------------------------------------------- panel 3
d3 = title_div(602, 47, "Positivity Rate", "(Percent)", 56, 5, 4)
p3 = ts_fig(602, 445, 50, 41, 10, 58, 0, 60)
style_axes(p3, list(range(0, 61, 10)), ly=16, ry=17)
date_axis(p3)
r3 = draw_lines(p3, {"RUS": POS_RUS, "FRA": POS_FRA, "ESP": POS_ESP, "UK": POS_UK,
                     "ITA": POS_ITA, "DEU": POS_DEU, "UKR": POS_UKR, "TUR": POS_TUR})
legends(p3, [[(c, r3[c]) for c in ["RUS", "UK", "UKR"]],
             [(c, r3[c]) for c in ["FRA", "ITA", "TUR"]]], [22, 117], 284, 11)
legends(p3, [[(c, r3[c]) for c in ["ESP", "DEU"]]], [211], 284 + 31, 11)

# ---------------------------------------------------------------- panel 4
d4 = title_div(601, 48, "Government Stringency Index", "(Index, 100 = most restrictive)",
               62, 4, 5)
p4 = ts_fig(601, 444, 58, 49, 10, 57, 0, 100)
style_axes(p4, list(range(0, 101, 10)), ly=20, ry=18)
date_axis(p4)
r4 = draw_lines(p4, {"RUS": STR_RUS, "FRA": STR_FRA, "ESP": STR_ESP, "UK": STR_UK,
                     "ITA": STR_ITA, "DEU": STR_DEU, "UKR": STR_UKR, "TUR": STR_TUR}, step=True)
legends(p4, [[(c, r4[c]) for c in ["RUS", "UK", "UKR"]],
             [(c, r4[c]) for c in ["FRA", "ITA", "TUR"]]], [179, 274], 20, 13,
        label_h=21, glyph_h=21)
legends(p4, [[(c, r4[c]) for c in ["ESP", "DEU"]]], [369], 20 + 34, 13, label_h=21, glyph_h=21)

# ---------------------------------------------------------------- panel 5
d5 = title_div(602, 69, "Apple Mobility Indicators 2/",
               "(Percent deviation from Jan. 13, 2020, 7-day MA)", 69, 24, 4)
p5 = ts_fig(602, 420, 66, 56, 10, 34, -100, 150)
style_axes(p5, list(range(-100, 151, 50)), tick_bottom=False, x_standoff=12, ly=16, ry=17)
date_axis(p5)
p5.add_layout(Span(location=0, dimension="width", line_color=FRAME_GRAY, line_width=2))
qx = [ms(q) for q in QUARTERS[1:]]
p5.segment(x0=qx, y0=[0] * len(qx), x1=qx, y1=[3.5] * len(qx), line_color=FRAME_GRAY,
           line_width=2)
rd = p5.line(xs(DRIVING), ys(DRIVING), line_color="#0D4F9C", line_width=2.5)
rw = p5.line(xs(WALKING), ys(WALKING), line_color="#0AA0DC", line_width=2.5)
legends(p5, [[("Driving", rd), ("Walking", rw)]], [57], 297, 14)

# ---------------------------------------------------------------- panel 6
d6 = title_div(601, 66, "Share of Population Vaccinated", "(Percent, as of April 20, 2021)",
               58, 21, 5)
p6 = figure(width=601, height=423, x_range=FactorRange(factors=VAC_COUNTRIES),
            y_range=Range1d(0, 50), output_backend="svg", toolbar_location=None, tools="",
            frame_align=False,
            min_border_left=52, min_border_right=36, min_border_top=10, min_border_bottom=33)
style_axes(p6, list(range(0, 51, 10)), tick_bottom=False, x_standoff=12, ly=15, ry=15)
full_colors = ["#FF8300" if c == "TUR" else "#009ADE" for c in VAC_COUNTRIES]
first_colors = ["#FDCB98" if c == "TUR" else "#B7D9FC" for c in VAC_COUNTRIES]
rf = p6.vbar(x=VAC_COUNTRIES, bottom=0, top=VAC_FULL, width=0.7, fill_color=full_colors,
             line_color=None)
r_first = p6.vbar(x=VAC_COUNTRIES, bottom=VAC_FULL, top=VAC_TOTAL, width=0.7,
                  fill_color=first_colors, line_color=None)
bx = list(range(1, len(VAC_COUNTRIES)))
p6.segment(x0=bx, y0=[0] * len(bx), x1=bx, y1=[0.7] * len(bx), line_color=FRAME_GRAY,
           line_width=2)
legends(p6, [[("First dose only", r_first), ("Fully vaccinated", rf)]], [341], 268, 18,
        glyph_w=12, glyph_h=12)

# ---------------------------------------------------------------- layout
left_pad = Spacer(width=6, height=1479, margin=0)
black_rule = Div(text='<div style="width:2px;height:1479px;background:#000;"></div>',
                 width=2, height=1479, margin=0)
left_col = column(d1, p1, d3, p3, d5, p5, spacing=0)
right_col = column(d2, p2, d4, p4, d6, p6, spacing=0)
page = row(left_pad, black_rule, left_col, right_col, spacing=0)
open("out.html", "w").write(file_html(page, INLINE))
